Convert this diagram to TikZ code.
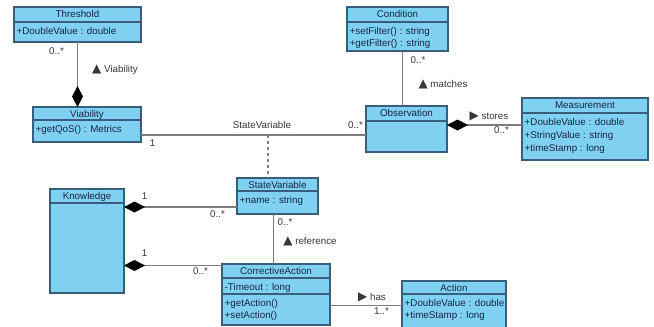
\documentclass[tikz,border=0pt]{standalone}
\usepackage{fontspec}
\setmainfont{Liberation Sans}
\newfontfamily\symfont{DejaVu Sans}
\usepackage{tikz}
\usetikzlibrary{arrows.meta}
\definecolor{classfill}{RGB}{128,208,242}
\definecolor{classedge}{RGB}{55,95,125}
\definecolor{classtext}{RGB}{20,40,70}
\definecolor{linkgray}{RGB}{125,125,125}
\definecolor{labelgray}{RGB}{55,55,55}
\newcommand{\uptri}{{\symfont\fontsize{12}{12}\selectfont ▲}}
\newcommand{\righttri}{{\symfont\fontsize{12}{12}\selectfont ▶}}

\begin{document}
\begin{tikzpicture}[x=1pt, y=-1pt, font=\fontsize{9.8}{11.5}\selectfont,
	classbox/.style={draw=classedge, fill=classfill, line width=1.1pt, inner sep=0pt, outer sep=0pt, anchor=north west},
	classline/.style={draw=classedge, line width=1.1pt},
	classname/.style={text=classtext, anchor=north, inner sep=2.5pt, text height=7.5pt, text depth=2pt},
	member/.style={text=classtext, anchor=north west, align=left, inner xsep=2.5pt, inner ysep=5.5pt},
	link/.style={draw=linkgray, line width=1.2pt},
	compose/.style={link, -{Diamond[length=21pt, width=11pt, color=black]}},
	lbl/.style={text=labelgray, inner sep=1pt}]
 \useasboundingbox[fill=white] (0,0) rectangle (654,327);
 \clip (0,0) rectangle (654,327);

 \node[classbox, minimum width=127pt, minimum height=35pt] (threshold) at (14,7) {};
 \node[classname] (thresholdname) at (threshold.north) {Threshold};
 \draw[classline] (threshold.west |- 0,22) -- (threshold.east |- 0,22);
 \node[member] (thresholdattr) at (threshold.west |- 0,22) {+DoubleValue : double};

 \node[classbox, minimum width=108pt, minimum height=35pt] (viability) at (33,107) {};
 \node[classname] (viabilityname) at (viability.north) {Viability};
 \draw[classline] (viability.west |- 0,120) -- (viability.east |- 0,120);
 \node[member] (viabilityop) at (viability.west |- 0,120) {+getQoS() : Metrics};

 \node[classbox, minimum width=101pt, minimum height=44pt] (condition) at (347,7) {};
 \node[classname] (conditionname) at (condition.north) {Condition};
 \draw[classline] (condition.west |- 0,22) -- (condition.east |- 0,22);
 \node[member] (conditionop) at (condition.west |- 0,22) {+setFilter() : string\\+getFilter() : string};

 \node[classbox, minimum width=81pt, minimum height=46pt] (observation) at (366,106) {};
 \node[classname] (observationname) at (observation.north) {Observation};
 \draw[classline] (observation.west |- 0,121) -- (observation.east |- 0,121);

 \node[classbox, minimum width=126pt, minimum height=62pt] (measurement) at (522,98) {};
 \node[classname] (measurementname) at (measurement.north) {Measurement};
 \draw[classline] (measurement.west |- 0,113) -- (measurement.east |- 0,113);
 \node[member, font=\fontsize{9.8}{13}\selectfont] (measurementattr) at (measurement.west |- 0,113) {+DoubleValue : double\\+StringValue : string\\+timeStamp : long};

 \node[classbox, minimum width=74pt, minimum height=104pt] (knowledge) at (50,189) {};
 \node[classname] (knowledgename) at (knowledge.north) {Knowledge};
 \draw[classline] (knowledge.west |- 0,203) -- (knowledge.east |- 0,203);

 \node[classbox, minimum width=81pt, minimum height=36pt] (statevar) at (237,178) {};
 \node[classname] (statevarname) at (statevar.north) {StateVariable};
 \draw[classline] (statevar.west |- 0,191) -- (statevar.east |- 0,191);
 \node[member] (statevarattr) at (statevar.west |- 0,191) {+name : string};

 \node[classbox, minimum width=108pt, minimum height=61pt] (corrective) at (222,264) {};
 \node[classname] (correctivename) at (corrective.north) {CorrectiveAction};
 \draw[classline] (corrective.west |- 0,278) -- (corrective.east |- 0,278);
 \node[member] (correctiveattr) at (corrective.west |- 0,278) {-Timeout : long};
 \draw[classline] (corrective.west |- 0,294) -- (corrective.east |- 0,294);
 \node[member] (correctiveop) at (corrective.west |- 0,294) {+getAction()\\+setAction()};

 \node[classbox, minimum width=104pt, minimum height=50pt] (action) at (402,281) {};
 \node[classname] (actionname) at (action.north) {Action};
 \draw[classline] (action.west |- 0,294) -- (action.east |- 0,294);
 \node[member] (actionattr) at (action.west |- 0,294) {+DoubleValue : double\\+timeStamp : long};

 \coordinate (svjoin) at (268,135);
 \draw[compose] (threshold.south) -- (threshold.south |- viability.north);
 \draw[link] (viability.east |- svjoin) -- (observation.west |- svjoin);
 \draw[link, dash pattern=on 3pt off 3pt] (svjoin) -- (svjoin |- statevar.north);
 \draw[link] ([xshift=5pt]condition.south) -- ([xshift=5pt]condition.south |- observation.north);
 \draw[compose] ([yshift=4pt]measurement.west) -- ([yshift=4pt]measurement.west -| observation.east);
 \draw[compose] ([yshift=-11pt]statevar.west) -- ([yshift=-11pt]statevar.west -| knowledge.east);
 \draw[compose] ([yshift=-1.5pt]corrective.north west) -- ([yshift=-1.5pt]corrective.north west -| knowledge.east);
 \draw[link] ([xshift=-4pt]statevar.south) -- ([xshift=-4pt]statevar.south |- corrective.north);
 \draw[link] ([yshift=-11pt]corrective.east) -- ([yshift=-11pt]corrective.east -| action.west);

 \node[lbl] (thresholdmult) at (56.5,51.5) {0..*};
 \node[lbl] (viabilitylbl) at (115,70) {\uptri\ Viability};
 \node[lbl] (viabilitymult) at (152.5,143.5) {1};
 \node[lbl] (svlbl) at (262,125) {StateVariable};
 \node[lbl] (observationmult) at (355.5,125) {0..*};
 \node[lbl] (conditionmult) at (418,60) {0..*};
 \node[lbl] (matcheslbl) at (443,84) {\uptri\ matches};
 \node[lbl] (storeslbl) at (489,116) {\righttri\ stores};
 \node[lbl] (measurementmult) at (501.5,130.5) {0..*};
 \node[lbl] (knowledgemulta) at (144.5,196.5) {1};
 \node[lbl] (statevarmulta) at (217.5,214) {0..*};
 \node[lbl] (knowledgemultb) at (144.5,253.5) {1};
 \node[lbl] (correctivemult) at (200.5,271) {0..*};
 \node[lbl] (statevarmultb) at (285,222.5) {0..*};
 \node[lbl] (referencelbl) at (310,241) {\uptri\ reference};
 \node[lbl] (haslbl) at (372,297) {\righttri\ has};
 \node[lbl] (actionmult) at (381.5,311) {1..*};
\end{tikzpicture}
\end{document}
